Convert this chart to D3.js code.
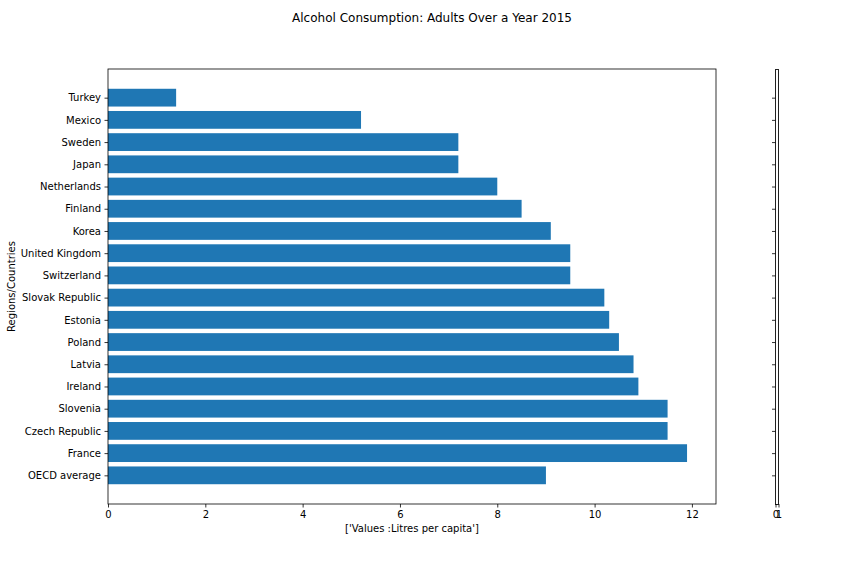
<!DOCTYPE html>
<html>
<head>
<meta charset="utf-8">
<script src="https://cdn.jsdelivr.net/npm/d3@7"></script>
<style>
  body { margin: 0; background: #fff; }
  svg text { font-family: "DejaVu Sans", sans-serif; fill: #000; }
</style>
</head>
<body>
<div id="chart"></div>
<script>
// data, bottom to top as matplotlib barh draws it
const countries = ["OECD average", "France", "Czech Republic", "Slovenia", "Ireland", "Latvia",
  "Poland", "Estonia", "Slovak Republic", "Switzerland", "United Kingdom", "Korea",
  "Finland", "Netherlands", "Japan", "Sweden", "Mexico", "Turkey"];
const litres = [9.0, 11.9, 11.5, 11.5, 10.9, 10.8, 10.5, 10.3, 10.2, 9.5, 9.5, 9.1,
  8.5, 8.0, 7.2, 7.2, 5.2, 1.4];
const xTicks = [0, 2, 4, 6, 8, 10, 12];
const sideTicks = [0, 1];

const W = 864, H = 576;
const margin = {top: 69, right: 148, bottom: 72, left: 108};
const width = W - margin.left - margin.right;   // 608
const height = H - margin.top - margin.bottom;  // 435

const svg = d3.select("#chart").append("svg")
  .attr("width", W)
  .attr("height", H);

const g = svg.append("g")
  .attr("transform", "translate(" + margin.left + "," + margin.top + ")");

// X scale (5% margin like matplotlib)
const xMax = d3.max(litres) * 1.05;
const x = d3.scaleLinear().domain([0, xMax]).range([0, width]);

// Y scale, linear over bar index
const n = countries.length;
const pad = (n - 1 + 0.8) * 0.05;
const y = d3.scaleLinear().domain([-0.4 - pad, n - 1 + 0.4 + pad]).range([height, 0]);

// Bars
g.selectAll(".bar")
  .data(litres)
  .enter().append("rect")
  .attr("class", "bar")
  .attr("x", x(0))
  .attr("y", (d, i) => y(i + 0.4))
  .attr("width", d => x(d) - x(0))
  .attr("height", (d, i) => y(i - 0.4) - y(i + 0.4))
  .attr("fill", "#1f77b4");

// X axis
const xAxis = g.append("g")
  .attr("transform", "translate(0," + height + ")")
  .call(d3.axisBottom(x).tickValues(xTicks).tickSize(3.5).tickPadding(3.5));

// Y axis
const yAxis = g.append("g")
  .call(d3.axisLeft(y).tickValues(d3.range(n)).tickFormat(i => countries[i]).tickSize(3.5).tickPadding(3.5));

[xAxis, yAxis].forEach(a => {
  a.select(".domain").remove();
  a.selectAll("text").style("font-size", "10px");
  a.selectAll("line").attr("stroke", "#000").attr("stroke-width", 0.8);
});

// frame
g.append("rect")
  .attr("width", width).attr("height", height)
  .attr("fill", "none").attr("stroke", "#000").attr("stroke-width", 0.8);

// narrow side axes on the right
const sx = d3.scaleLinear().domain([0, 1]).range([775.5, 778.5]);
const side = svg.append("g").attr("transform", "translate(0," + margin.top + ")");
side.append("rect")
  .attr("x", sx(0)).attr("width", sx(1) - sx(0))
  .attr("height", height)
  .attr("fill", "none").attr("stroke", "#222").attr("stroke-width", 1)
  .attr("shape-rendering", "crispEdges");
const sideY = side.append("g")
  .attr("transform", "translate(" + sx(0) + ",0)")
  .call(d3.axisLeft(y).tickValues(d3.range(n)).tickFormat("").tickSize(3.5));
const sideX = side.append("g")
  .attr("transform", "translate(0," + height + ")")
  .call(d3.axisBottom(sx).tickValues(sideTicks).tickFormat(d3.format("d")).tickSize(3.5).tickPadding(3.5));
[sideY, sideX].forEach(a => {
  a.select(".domain").remove();
  a.selectAll("text").style("font-size", "10px");
  a.selectAll("line").attr("stroke", "#000").attr("stroke-width", 0.8);
});

// Labels
svg.append("text")
  .attr("x", W / 2).attr("y", 22)
  .attr("text-anchor", "middle")
  .style("font-size", "12px")
  .text("Alcohol Consumption: Adults Over a Year 2015");

svg.append("text")
  .attr("x", margin.left + width / 2).attr("y", 532)
  .attr("text-anchor", "middle")
  .style("font-size", "10px")
  .text("['Values :Litres per capita']");

svg.append("text")
  .attr("transform", "translate(15," + (margin.top + height / 2) + ") rotate(-90)")
  .attr("text-anchor", "middle")
  .style("font-size", "10px")
  .text("Regions/Countries");
</script>
</body>
</html>
